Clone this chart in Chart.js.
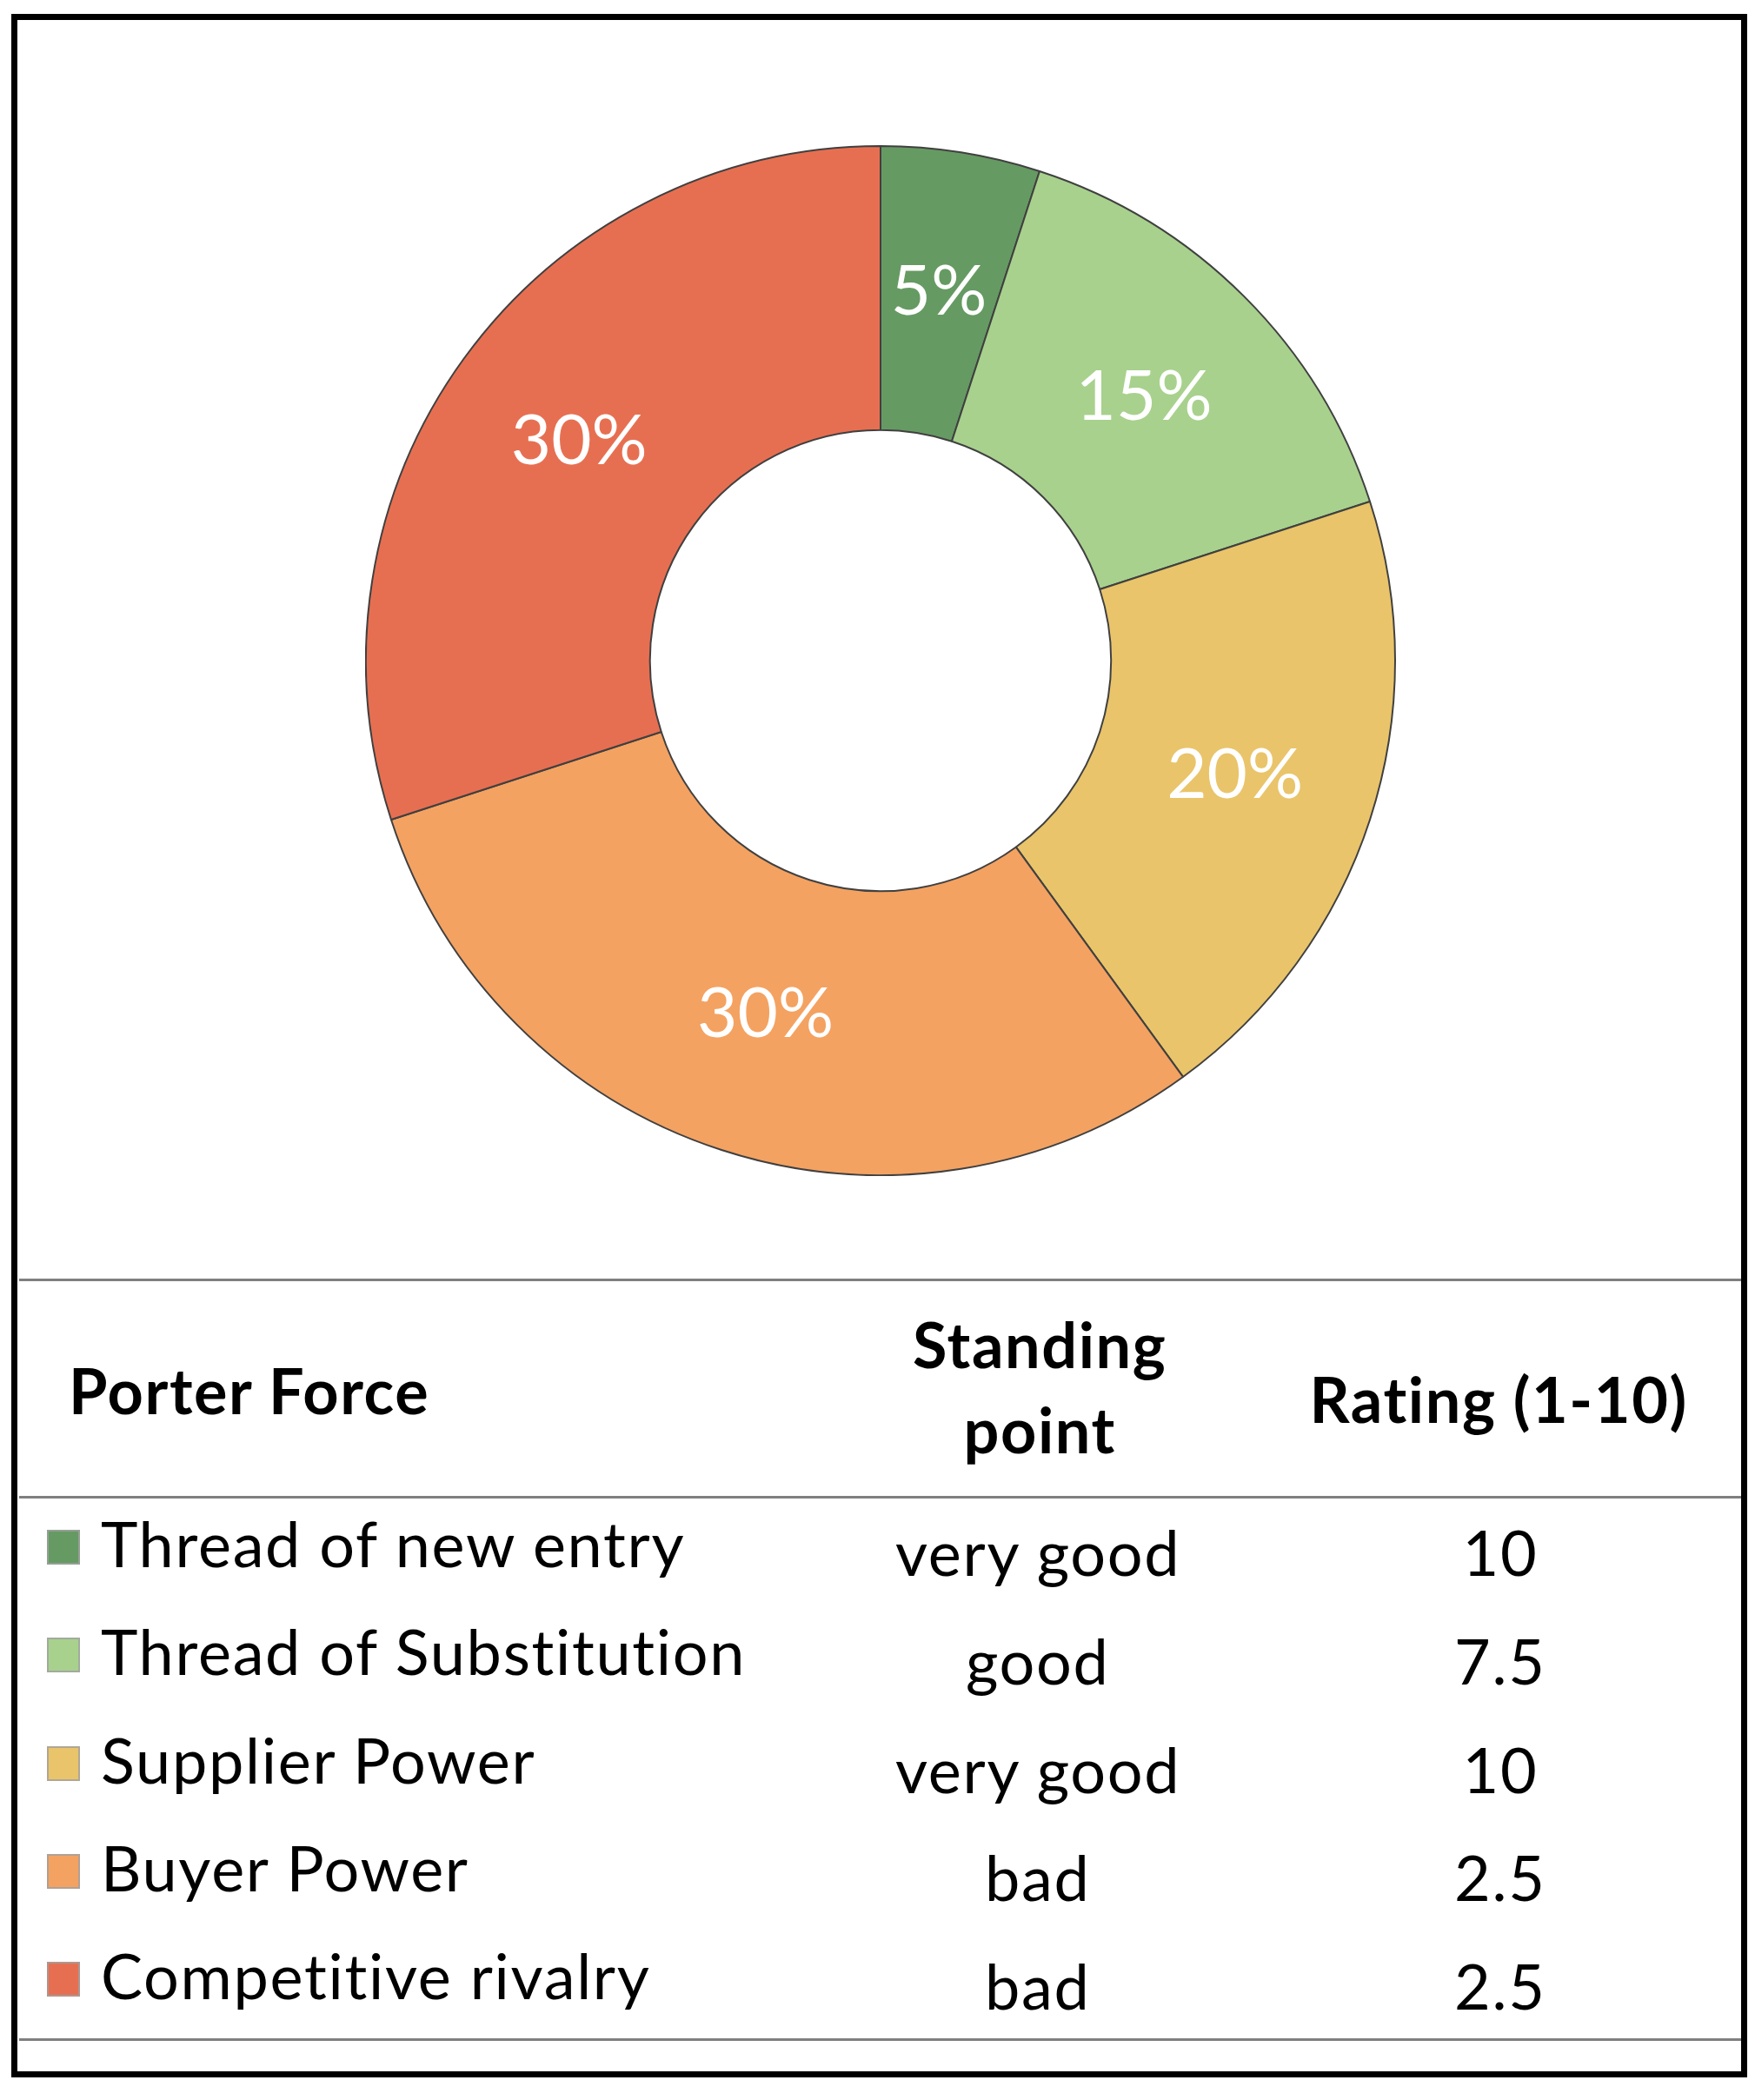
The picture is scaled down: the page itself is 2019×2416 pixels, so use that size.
<!DOCTYPE html>
<html>
<head>
<meta charset="utf-8">
<script src="https://cdn.jsdelivr.net/npm/chart.js@4.4.1/dist/chart.umd.min.js"></script>
<style>
html,body{margin:0;padding:0;background:#fff;}
#page{position:relative;width:2019px;height:2416px;overflow:hidden;font-family:Lato,"Open Sans",sans-serif;color:#000;}
#frame{position:absolute;left:13px;top:16px;width:1997px;height:2374px;border:7px solid #000;box-sizing:border-box;}
#donutBox{position:absolute;left:420px;top:167px;width:1186px;height:1186px;}
.hline{position:absolute;left:22px;width:1981px;height:3px;background:#7f7f7f;}
.txt{position:absolute;white-space:nowrap;line-height:1;font-variant-ligatures:none;font-feature-settings:"liga" 0,"clig" 0;}
.head{font-weight:700;font-size:72px;letter-spacing:1.6px;}
.cell{font-size:72px;letter-spacing:1.7px;}
.sq{position:absolute;width:38px;height:40px;box-sizing:border-box;border:2px solid rgba(160,160,160,0.8);}
</style>
</head>
<body>
<div id="page">
<div id="frame"></div>
<div id="donutBox"><canvas id="donut"></canvas></div>
<div id="table"></div>
</div>
<script>
// ===== DATA =====
const forces = ["Thread of new entry","Thread of Substitution","Supplier Power","Buyer Power","Competitive rivalry"];
const shares = [5,15,20,30,30];
const standing = ["very good","good","very good","bad","bad"];
const ratings = ["10","7.5","10","2.5","2.5"];
const colHeads = ["Porter Force","Standing|point","Rating (1-10)"];

const sliceColors = ["#669a63","#a8d18d","#e9c46a","#f4a261","#e76f51"];


/* ================= TABLE ================= */
function baseTop(baseline, size){
// Lato: baseline sits ~0.887em below top of a line-height:1 box
return baseline - size*0.887;
}

function addText(parent, str, cls, x, baseline, align){
let d = document.createElement("div");
d.className = "txt " + cls;
d.textContent = str;
d.style.top = baseTop(baseline,72) + "px";
parent.appendChild(d);
if(align==="center"){
d.style.left = (x - d.offsetWidth/2) + "px";
}else{
d.style.left = x + "px";
}
return d;
}

function buildTable(){
let t = document.getElementById("table");

[1472,1722,2346].forEach(y=>{
let l = document.createElement("div");
l.className = "hline";
l.style.top = (y-1) + "px";
t.appendChild(l);
});

addText(t, colHeads[0], "head", 79, 1627);
let sp = colHeads[1].split("|");
addText(t, sp[0], "head", 1196, 1574, "center");
addText(t, sp[1], "head", 1196, 1672, "center");
addText(t, colHeads[2], "head", 1724, 1637, "center");

forces.forEach((f,i)=>{
let b1 = 1803 + i*124.3;
let b2 = 1813 + i*124.7;
let sq = document.createElement("div");
sq.className = "sq";
sq.style.left = "54px";
sq.style.top = (b1-43) + "px";
sq.style.background = sliceColors[i];
t.appendChild(sq);
addText(t, f, "cell", 116, b1);
addText(t, standing[i], "cell", 1194, b2, "center");
addText(t, ratings[i], "cell", 1726, b2, "center");
});
}


/* ================= DONUT ================= */
const pctLabels = {
id:"pctLabels",
afterDatasetsDraw(chart){
let ctx = chart.ctx;
let meta = chart.getDatasetMeta(0);
let total = shares.reduce((a,b)=>a+b,0);
ctx.save();
ctx.fillStyle = "#ffffff";
ctx.font = "80px Lato, sans-serif";
ctx.textAlign = "center";
ctx.textBaseline = "middle";
meta.data.forEach((arc,i)=>{
let p = arc.tooltipPosition();
ctx.fillText(Math.round(shares[i]/total*100) + "%", p.x, p.y);
});
ctx.restore();
}
};

function drawDonut(){
new Chart(document.getElementById("donut"), {
type: "doughnut",
data: {
labels: forces,
datasets: [{
data: shares,
backgroundColor: sliceColors,
borderColor: "#404040",
borderWidth: 2
}]
},
options: {
responsive: true,
maintainAspectRatio: false,
animation: false,
cutout: "44.8%",
layout: { padding: 0 },
plugins: {
legend: { display:false },
tooltip: { enabled:false }
}
},
plugins: [pctLabels]
});
}

document.fonts.load("80px Lato").then(()=>{
buildTable();
drawDonut();
});
</script>
</body>
</html>
